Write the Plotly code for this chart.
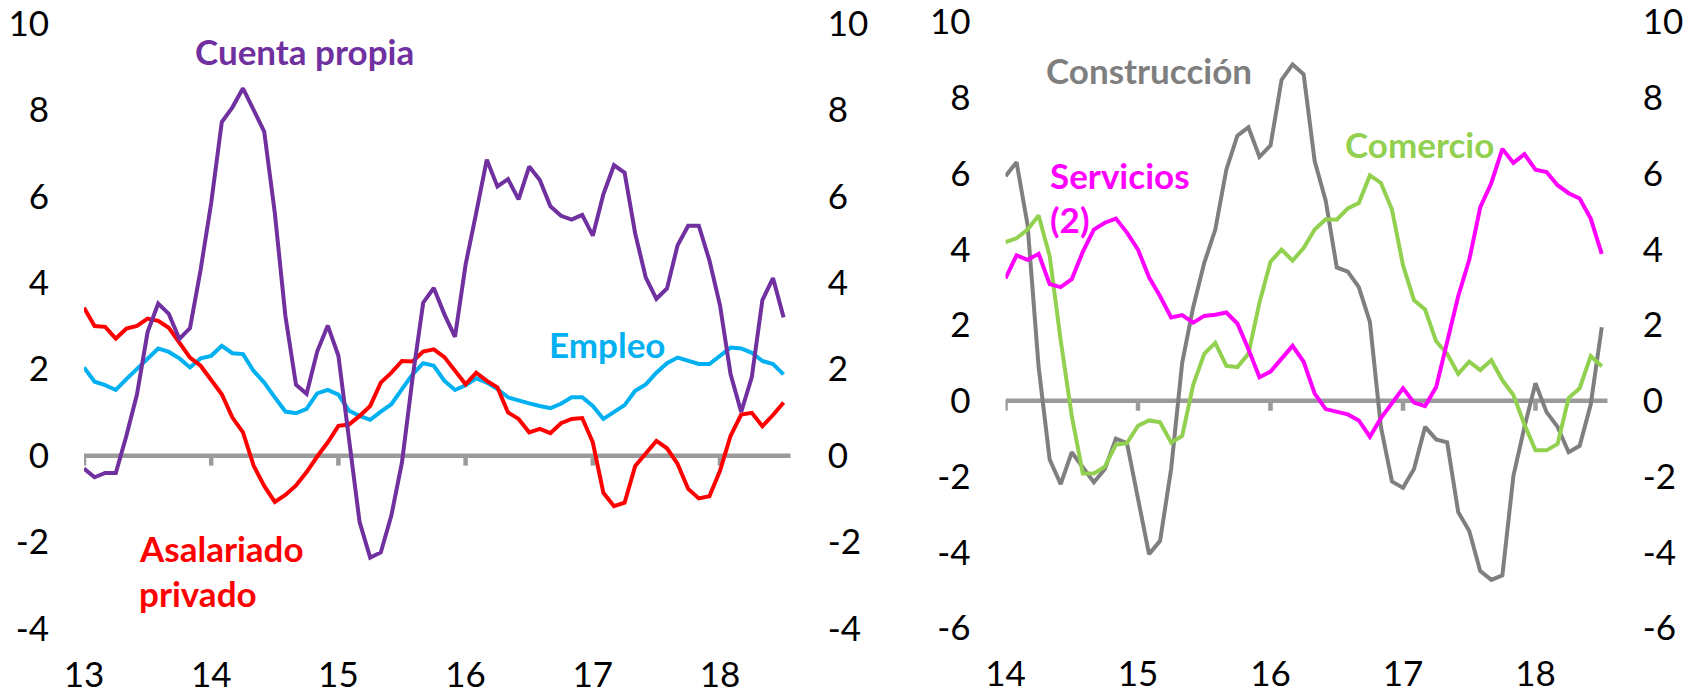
import plotly.graph_objects as go

# ---------------- data ----------------
left_years = [13, 14, 15, 16, 17, 18]
left_year_labels = ["13", "14", "15", "16", "17", "18"]
right_years = [14, 15, 16, 17, 18]
right_year_labels = ["14", "15", "16", "17", "18"]

left_yticks = [-4, -2, 0, 2, 4, 6, 8, 10]
left_ytick_labels = ["-4", "-2", "0", "2", "4", "6", "8", "10"]
right_yticks = [-6, -4, -2, 0, 2, 4, 6, 8, 10]
right_ytick_labels = ["-6", "-4", "-2", "0", "2", "4", "6", "8", "10"]

# Left panel: monthly, Jan 2013 .. Jul 2018
cuenta_propia = [-0.3, -0.5, -0.4, -0.4, 0.46, 1.42, 2.86, 3.52, 3.28, 2.7, 2.95, 4.3,
                 5.85, 7.72, 8.06, 8.5, 8.0, 7.5, 5.62, 3.23, 1.64, 1.43, 2.41, 3.01,
                 2.31, 0.4, -1.54, -2.36, -2.24, -1.38, -0.15, 1.8, 3.54, 3.88, 3.27, 2.75,
                 4.42, 5.62, 6.85, 6.23, 6.4, 5.93, 6.69, 6.38, 5.77, 5.55, 5.46, 5.57,
                 5.09, 6.05, 6.72, 6.55, 5.14, 4.12, 3.63, 3.87, 4.87, 5.32, 5.32, 4.52,
                 3.48, 1.88, 1.01, 1.82, 3.6, 4.11, 3.2]
asalariado = [3.42, 3.0, 2.98, 2.71, 2.94, 3.0, 3.17, 3.12, 2.96, 2.62, 2.27, 2.08,
              1.75, 1.42, 0.88, 0.54, -0.23, -0.7, -1.07, -0.91, -0.69, -0.38, -0.02, 0.31,
              0.69, 0.72, 0.92, 1.15, 1.69, 1.92, 2.19, 2.18, 2.41, 2.46, 2.28, 1.96,
              1.65, 1.92, 1.73, 1.58, 1.0, 0.85, 0.54, 0.62, 0.52, 0.75, 0.85, 0.87,
              0.31, -0.86, -1.17, -1.09, -0.24, 0.05, 0.34, 0.17, -0.19, -0.77, -0.99, -0.94,
              -0.35, 0.46, 0.95, 0.99, 0.68, 0.94, 1.23]
empleo = [2.04, 1.71, 1.63, 1.52, 1.77, 2.0, 2.23, 2.48, 2.4, 2.25, 2.04, 2.25,
          2.31, 2.54, 2.37, 2.35, 1.96, 1.69, 1.35, 1.02, 0.98, 1.08, 1.44, 1.52,
          1.41, 1.04, 0.92, 0.83, 1.02, 1.19, 1.54, 1.88, 2.14, 2.08, 1.73, 1.52,
          1.63, 1.79, 1.69, 1.54, 1.35, 1.27, 1.21, 1.15, 1.1, 1.2, 1.35, 1.35,
          1.15, 0.85, 1.0, 1.17, 1.5, 1.65, 1.92, 2.14, 2.27, 2.19, 2.12, 2.12,
          2.31, 2.5, 2.48, 2.38, 2.19, 2.12, 1.88]

# Right panel: monthly, Jan 2014 .. Jul 2018
construccion = [5.93, 6.3, 4.64, 0.89, -1.55, -2.2, -1.36, -1.74, -2.15, -1.8, -1.0, -1.12,
                -2.56, -4.05, -3.7, -1.8, 1.0, 2.47, 3.64, 4.52, 6.1, 7.0, 7.22, 6.44,
                6.74, 8.47, 8.88, 8.62, 6.33, 5.28, 3.52, 3.41, 3.0, 2.08, -0.69, -2.13,
                -2.3, -1.8, -0.69, -1.02, -1.1, -2.94, -3.44, -4.5, -4.73, -4.61, -1.98, -0.69,
                0.46, -0.3, -0.69, -1.36, -1.19, -0.1, 1.94]
comercio = [4.19, 4.29, 4.52, 4.89, 3.82, 1.59, -0.4, -1.92, -1.92, -1.74, -1.16, -1.12,
            -0.66, -0.52, -0.57, -1.1, -0.93, 0.42, 1.24, 1.53, 0.92, 0.89, 1.24, 2.59,
            3.67, 3.99, 3.7, 4.03, 4.52, 4.79, 4.78, 5.08, 5.22, 5.95, 5.75, 5.05,
            3.58, 2.65, 2.41, 1.57, 1.24, 0.71, 1.03, 0.81, 1.07, 0.54, 0.15, -0.63,
            -1.31, -1.31, -1.14, 0.07, 0.33, 1.18, 0.91]
servicios = [3.23, 3.84, 3.72, 3.88, 3.08, 3.0, 3.21, 3.93, 4.52, 4.7, 4.81, 4.44,
             3.99, 3.26, 2.76, 2.2, 2.26, 2.06, 2.24, 2.27, 2.33, 2.04, 1.36, 0.62,
             0.77, 1.1, 1.45, 1.03, 0.19, -0.22, -0.28, -0.36, -0.52, -0.95, -0.46, -0.05,
             0.33, -0.05, -0.14, 0.36, 1.53, 2.76, 3.72, 5.11, 5.75, 6.65, 6.28, 6.51,
             6.1, 6.04, 5.69, 5.48, 5.34, 4.81, 3.88]

x_left = [left_years[0] + i / 12 for i in range(len(empleo))]
x_right = [right_years[0] + i / 12 for i in range(len(construccion))]

# ---------------- layout helpers ----------------
W, H = 1694, 694
FONT = "Lato"
FS = 35

def fx(px):
    return px / W

def fy(px):
    return 1 - px / H

C_PURPLE = "#7030A0"
C_RED = "#FF0000"
C_BLUE = "#00B0F0"
C_GRAY = "#7F7F7F"
C_GREEN = "#92D050"
C_MAGENTA = "#FF00FF"
C_AXIS = "#9A9A9A"

LW = 4

fig = go.Figure()

# left panel traces
fig.add_trace(go.Scatter(x=x_left, y=empleo, mode="lines", name="Empleo",
                         line=dict(color=C_BLUE, width=LW), xaxis="x", yaxis="y"))
fig.add_trace(go.Scatter(x=x_left, y=asalariado, mode="lines", name="Asalariado privado",
                         line=dict(color=C_RED, width=LW), xaxis="x", yaxis="y"))
fig.add_trace(go.Scatter(x=x_left, y=cuenta_propia, mode="lines", name="Cuenta propia",
                         line=dict(color=C_PURPLE, width=LW), xaxis="x", yaxis="y2"))

# right panel traces
fig.add_trace(go.Scatter(x=x_right, y=construccion, mode="lines", name="Construcción",
                         line=dict(color=C_GRAY, width=LW), xaxis="x2", yaxis="y3"))
fig.add_trace(go.Scatter(x=x_right, y=comercio, mode="lines", name="Comercio",
                         line=dict(color=C_GREEN, width=LW), xaxis="x2", yaxis="y3"))
fig.add_trace(go.Scatter(x=x_right, y=servicios, mode="lines", name="Servicios (2)",
                         line=dict(color=C_MAGENTA, width=LW), xaxis="x2", yaxis="y4"))

# pixel geometry
L_X0, L_X1 = 84.0, 790.7
L_XR = [13.0, 13.0 + (L_X1 - L_X0) / 127.2]
L_Y0, L_Y1 = 23.5, 628.5      # y=10 .. y=-4
R_X0, R_X1 = 1005.5, 1607.7
R_XR = [14.0, 14.0 + (R_X1 - R_X0) / 132.5]
R_Y0, R_Y1 = 22.0, 628.0      # y=10 .. y=-6

tickfont = dict(family=FONT, size=FS, color="black")

common_x = dict(showgrid=False, zeroline=False, showline=False, ticks="",
                tickfont=tickfont, ticklabelstandoff=22, fixedrange=True, automargin=False,
                ticklabeloverflow="allow")
common_y = dict(showgrid=False, zeroline=False, showline=False, ticks="",
                tickfont=tickfont, fixedrange=True, automargin=False,
                ticklabeloverflow="allow")

fig.update_layout(
    width=W, height=H,
    margin=dict(l=0, r=0, t=0, b=0, autoexpand=False),
    paper_bgcolor="white", plot_bgcolor="white",
    showlegend=False,
    font=dict(family=FONT, size=FS, color="black"),
    xaxis=dict(domain=[fx(L_X0), fx(L_X1)], range=L_XR, anchor="y",
               tickmode="array", tickvals=left_years, ticktext=left_year_labels, **common_x),
    yaxis=dict(domain=[fy(L_Y1), fy(L_Y0)], range=[-4, 10], anchor="x",
               tickmode="array", tickvals=left_yticks, ticktext=left_ytick_labels,
               ticklabelstandoff=34, **common_y),
    yaxis2=dict(range=[-4, 10], overlaying="y", side="right", anchor="x",
                tickmode="array", tickvals=left_yticks, ticktext=left_ytick_labels,
                ticklabelstandoff=36, **common_y),
    xaxis2=dict(domain=[fx(R_X0), fx(R_X1)], range=R_XR, anchor="y3",
                tickmode="array", tickvals=right_years, ticktext=right_year_labels, **common_x),
    yaxis3=dict(domain=[fy(R_Y1), fy(R_Y0)], range=[-6, 10], anchor="x2",
                tickmode="array", tickvals=right_yticks, ticktext=right_ytick_labels,
                ticklabelstandoff=34, **common_y),
    yaxis4=dict(range=[-6, 10], overlaying="y3", side="right", anchor="x2",
                tickmode="array", tickvals=right_yticks, ticktext=right_ytick_labels,
                ticklabelstandoff=34, **common_y),
)

# zero axis lines with tick marks
shapes = []
shapes.append(dict(type="line", xref="x", yref="y", x0=L_XR[0], x1=L_XR[1], y0=0, y1=0,
                   line=dict(color=C_AXIS, width=4.5), layer="below"))
for yr in left_years:
    shapes.append(dict(type="line", xref="x", yref="y", ysizemode="pixel", yanchor=0,
                       x0=yr, x1=yr, y0=0, y1=-10,
                       line=dict(color=C_AXIS, width=4.5), layer="below"))
shapes.append(dict(type="line", xref="x2", yref="y3", x0=R_XR[0], x1=R_XR[1], y0=0, y1=0,
                   line=dict(color=C_AXIS, width=4.5), layer="below"))
for yr in right_years:
    shapes.append(dict(type="line", xref="x2", yref="y3", ysizemode="pixel", yanchor=0,
                       x0=yr, x1=yr, y0=0, y1=-10,
                       line=dict(color=C_AXIS, width=4.5), layer="below"))
fig.update_layout(shapes=shapes)

# text labels
def label(text, px_x, px_y, color, xanchor="center"):
    fig.add_annotation(text=f"<b>{text}</b>", xref="paper", yref="paper",
                       x=fx(px_x), y=fy(px_y), xanchor=xanchor, yanchor="middle",
                       showarrow=False, font=dict(family=FONT, size=FS, color=color))

label("Cuenta propia", 304, 51, C_PURPLE)
label("Empleo", 607, 344, C_BLUE)
label("Asalariado", 137, 548, C_RED, xanchor="left")
label("privado", 137, 593, C_RED, xanchor="left")
label("Construcción", 1149, 70, C_GRAY)
label("Servicios", 1048, 175, C_MAGENTA, xanchor="left")
label("(2)", 1048, 219, C_MAGENTA, xanchor="left")
label("Comercio", 1419, 144, C_GREEN)

fig.write_html(
    "out.html",
    config={"displayModeBar": False, "staticPlot": True},
    post_script="document.body.style.margin='0px';document.body.style.overflow='hidden';",
)
